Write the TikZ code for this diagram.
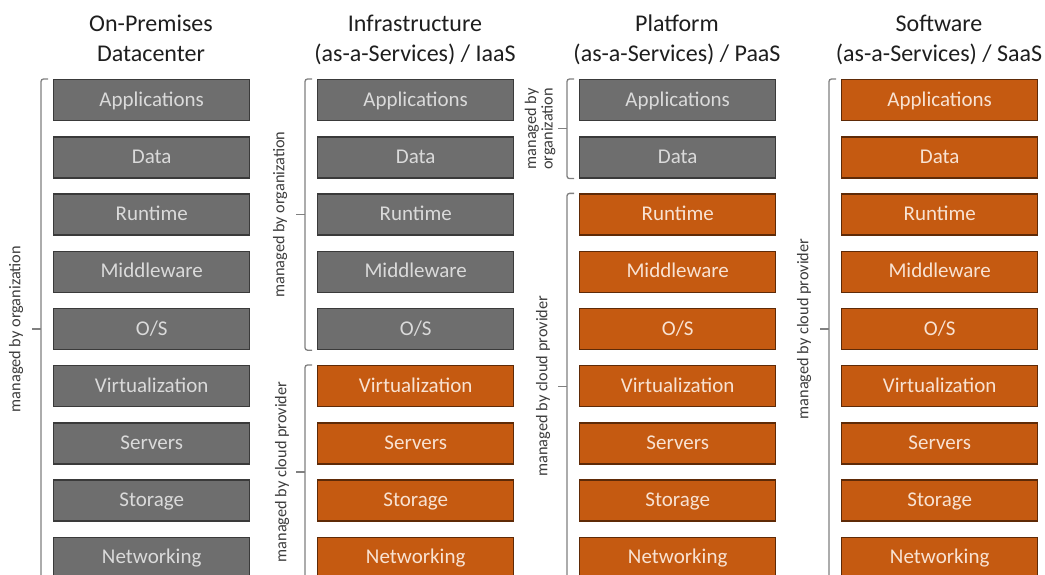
\documentclass[tikz,border=0pt]{standalone}
\usepackage{fontspec}
\setmainfont{Carlito}
\usetikzlibrary{calc}

\definecolor{orgfill}{HTML}{6E6E6E}
\definecolor{orgedge}{HTML}{3A3A3A}
\definecolor{orgtext}{HTML}{DADADA}
\definecolor{cloudfill}{HTML}{C55A11}
\definecolor{cloudedge}{HTML}{5E2A07}
\definecolor{cloudtext}{HTML}{F8E2D2}
\definecolor{bracecol}{HTML}{808080}
\definecolor{labelcol}{HTML}{3C3C3C}
\definecolor{titlecol}{HTML}{1E1E1E}

\tikzset{
  layerbox/.style={draw, line width=1.4pt, anchor=north west,
    minimum width=196pt, minimum height=41pt, inner sep=0pt,
    text height=15pt, text depth=3pt,
    font=\fontsize{21}{24}\selectfont},
  orgbox/.style={layerbox, fill=orgfill, draw=orgedge, text=orgtext},
  cloudbox/.style={layerbox, fill=cloudfill, draw=cloudedge, text=cloudtext},
  coltitle/.style={anchor=base, inner sep=0pt, text=titlecol,
    font=\fontsize{24}{30}\selectfont},
  brace/.style={draw=bracecol, line width=1.3pt, rounded corners=2.5pt},
  bracetick/.style={draw=bracecol, line width=1.3pt},
  bracelabel/.style={rotate=90, inner sep=0pt, align=center, text=labelcol,
    font=\fontsize{16.3}{16.5}\selectfont}
}

% square bracket down the left side of a run of layers, with its label
% #1 top layer, #2 bottom layer, #3 label text, #4 label distance from bracket
\newcommand\layerbrace[4]{%
  \coordinate (bt) at ($(#1.north west)+(-12,0)$);
  \coordinate (bb) at ($(#2.south west)+(-12,0)$);
  \draw[brace] ($(bt)+(7,0)$) -- (bt) -- (bb) -- ($(bb)+(7,0)$);
  \coordinate (bm) at ($(bt)!.5!(bb)$);
  \draw[bracetick] (bm) -- ++(-9,0);
  \node[bracelabel] at ($(bm)+(-#4,0)$) {#3};
}

\begin{document}
\begin{tikzpicture}[x=1pt,y=-1pt]
\useasboundingbox (0,0) rectangle (1045,575);
\clip (0,0) rectangle (1045,575);

% column headings
\node[coltitle] (t1a) at (151,32) {On-Premises};
\node[coltitle] (t1b) at (151,62) {Datacenter};
\node[coltitle] (t2a) at (415,32) {Infrastructure};
\node[coltitle] (t2b) at (415,62) {(as-a-Services) / IaaS};
\node[coltitle] (t3a) at (677,32) {Platform};
\node[coltitle] (t3b) at (677,62) {(as-a-Services) / PaaS};
\node[coltitle] (t4a) at (939,32) {Software};
\node[coltitle] (t4b) at (939,62) {(as-a-Services) / SaaS};

% layer stacks: column / left edge / number of layers run by the organization
\foreach \c/\x/\ng in {1/53/9, 2/317/5, 3/579/2, 4/841/0}{
  \foreach \r/\t in {1/Applications, 2/Data, 3/Runtime, 4/Middleware,
                     5/O\slash S, 6/Virtualization, 7/Servers, 8/Storage,
                     9/Networking}{
    \ifnum\r>\ng \def\sty{cloudbox}\else\def\sty{orgbox}\fi
    \node[\sty] (c\c r\r) at (\x, {79+57.2*(\r-1)}) {\t};
  }
}

% who manages which layers
\layerbrace{c1r1}{c1r9}{managed by organization}{25}
\layerbrace{c2r1}{c2r5}{managed by organization}{25}
\layerbrace{c2r6}{c2r9}{managed by cloud provider}{23}
\layerbrace{c3r1}{c3r2}{managed by\\organization}{27}
\layerbrace{c3r3}{c3r9}{managed by cloud provider}{24}
\layerbrace{c4r1}{c4r9}{managed by cloud provider}{25}
\end{tikzpicture}
\end{document}
